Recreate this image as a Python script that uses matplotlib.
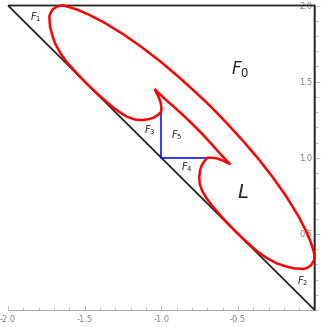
import matplotlib
matplotlib.use("Agg")
import matplotlib.pyplot as plt
from matplotlib.ticker import MultipleLocator

plt.rcParams['mathtext.fontset'] = 'dejavusans'

# ---- data ----
curve_x = [-1.0403, -0.9717, -0.9116, -0.8487, -0.7879, -0.7285, -0.6712, -0.6182, -0.5538, -0.6054,
           -0.639, -0.6677, -0.6974, -0.7179, -0.7370, -0.7469, -0.7525, -0.7490, -0.7313, -0.7030,
           -0.6606, -0.5948, -0.5192, -0.4470, -0.3721, -0.3141, -0.2490, -0.2080, -0.1394, -0.0701,
           -0.0454, -0.0242, -0.0030, 0.0, -0.0086, -0.0256, -0.0595, -0.1076, -0.1882, -0.2759,
           -0.3686, -0.4661, -0.5672,
           -0.6705, -0.7794, -0.8904, -1.0049, -1.1245, -1.2489, -1.3804, -1.4738, -1.5530, -1.6067,
           -1.6407, -1.6718, -1.7071, -1.7212, -1.7304, -1.7262, -1.7071, -1.6930, -1.6576, -1.6166,
           -1.5501, -1.4808, -1.4009, -1.3253, -1.2687, -1.2220, -1.1732, -1.1273, -1.0834, -1.0509,
           -1.0205, -1.0, -1.0, -1.0039, -1.0156, -1.0403]
curve_y = [1.4462, 1.3818, 1.3288, 1.2715, 1.2121, 1.1513, 1.0884, 1.0283, 0.9597, 0.9844,
           0.9961, 1.0, 1.0, 0.9795, 0.9491, 0.9166, 0.8727, 0.8268, 0.7780, 0.7313,
           0.6747, 0.5991, 0.5192, 0.4499, 0.3834, 0.3424, 0.3070, 0.2929, 0.2738, 0.2696,
           0.2788, 0.2929, 0.3282, 0.3593, 0.3933, 0.4470, 0.5262, 0.6196, 0.7511, 0.8755,
           0.9951, 1.1096, 1.2206,
           1.3295, 1.4328, 1.5339, 1.6314, 1.7241, 1.8118, 1.8924, 1.9405, 1.9744, 1.9914,
           2.0, 1.9970, 1.9758, 1.9546, 1.9299, 1.8606, 1.7920, 1.7510, 1.6859, 1.6279,
           1.5530, 1.4808, 1.4052, 1.3394, 1.2970, 1.2687, 1.2510, 1.2475, 1.2531, 1.2630,
           1.2821, 1.3026, 1.3323, 1.361, 1.3946, 1.4462]

border_x = [-2.0, 0.0, 0.0, -2.0]
border_y = [2.0, 2.0, 0.0, 2.0]

blue_x = [-1.0, -1.0, -0.697]
blue_y = [1.303, 1.0, 1.0]

x_ticks = [-2.0, -1.5, -1.0, -0.5]
x_labels = ['-2.0', '-1.5', '-1.0', '-0.5']
y_ticks = [0.5, 1.0, 1.5, 2.0]
y_labels = ['0.5', '1.0', '1.5', '2.0']

region_labels = [('$F_0$', -0.487, 1.583, 12),
                 ('$L$', -0.47, 0.77, 14),
                 ('$F_1$', -1.817, 1.927, 7),
                 ('$F_2$', -0.076, 0.187, 7),
                 ('$F_3$', -1.074, 1.182, 7),
                 ('$F_4$', -0.834, 0.936, 7),
                 ('$F_5$', -0.90, 1.149, 7)]

# ---- figure ----
fig = plt.figure(figsize=(3.22, 3.27), dpi=100)
ax = fig.add_axes([8/322, 17/327, 306.6/322, 304.5/327])
ax.set_xlim(-2, 0)
ax.set_ylim(0, 2)

axis_gray = '#b3b3b3'
label_gray = '#808080'
for s in ['top', 'left']:
    ax.spines[s].set_visible(False)
ax.spines['bottom'].set_color(axis_gray)
ax.spines['right'].set_color(axis_gray)
ax.spines['bottom'].set_linewidth(0.8)
ax.spines['right'].set_linewidth(0.8)

ax.set_xticks(x_ticks)
ax.set_xticklabels(x_labels)
ax.xaxis.set_minor_locator(MultipleLocator(0.1))
ax.set_yticks(y_ticks)
ax.set_yticklabels(y_labels)
ax.yaxis.set_minor_locator(MultipleLocator(0.1))

ax.tick_params(axis='x', which='both', direction='in', color=axis_gray,
               labelcolor=label_gray, labelsize=6, pad=3.5, width=0.6)
ax.tick_params(axis='x', which='major', length=3.5)
ax.tick_params(axis='x', which='minor', length=2)
ax.tick_params(axis='y', which='both', direction='out', left=False, right=True,
               labelleft=False, labelright=True, color=axis_gray,
               labelcolor=label_gray, labelsize=6, width=0.6)
ax.tick_params(axis='y', which='major', length=3.5, pad=-5)
ax.tick_params(axis='y', which='minor', length=2)
for t in ax.yaxis.get_major_ticks():
    t.label2.set_horizontalalignment('right')

ax.plot(border_x, border_y, color='#262626', lw=1.3, solid_capstyle='butt',
        solid_joinstyle='miter', zorder=3, clip_on=False)
ax.plot(blue_x, blue_y, color='#0000ff', lw=1.1, zorder=3)
ax.plot(curve_x, curve_y, color='#ff0000', lw=1.8, zorder=4,
        solid_joinstyle='round', solid_capstyle='round', clip_on=False)

for txt, x, y, fs in region_labels:
    ax.text(x, y, txt, fontsize=fs, ha='center', va='center', color='#222222')

fig.savefig('out.png', dpi=100)
